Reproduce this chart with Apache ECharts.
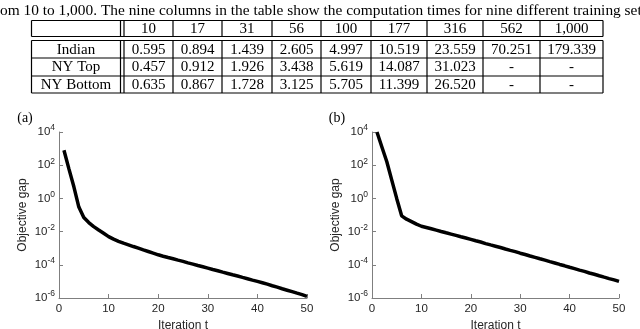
<!DOCTYPE html>
<html>
<head>
<meta charset="utf-8">
<script src="https://cdn.jsdelivr.net/npm/echarts@6/dist/echarts.min.js"></script>
<style>
  html, body { margin: 0; padding: 0; background: #fff; }
  #main { width: 640px; height: 329px; }
</style>
</head>
<body>
<div id="main"></div>
<script>
// caption line cut from the paper
var captionText = 'om 10 to 1,000. The nine columns in the table show the computation times for nine different training set';

// table data
var setSizes = ['10', '17', '31', '56', '100', '177', '316', '562', '1,000'];
var rowNames = ['Indian', 'NY Top', 'NY Bottom'];
var indianTimes = ['0.595', '0.894', '1.439', '2.605', '4.997', '10.519', '23.559', '70.251', '179.339'];
var nyTopTimes = ['0.457', '0.912', '1.926', '3.438', '5.619', '14.087', '31.023', '-', '-'];
var nyBottomTimes = ['0.635', '0.867', '1.728', '3.125', '5.705', '11.399', '26.520', '-', '-'];

// plot data (objective gap per iteration)
var iterations = [];
for (var i = 1; i <= 50; i++) iterations.push(i);

var gapA = [
  8e2, 6e1, 5e0, 3e-1, 7e-2, 3.5e-2, 2e-2, 1.25e-2, 8e-3, 5e-3,
  3.5e-3, 2.6e-3, 2e-3, 1.6e-3, 1.26e-3, 1e-3, 7.9e-4, 6.3e-4, 5e-4, 4e-4,
  3.3e-4, 2.75e-4, 2.3e-4, 1.9e-4, 1.6e-4, 1.3e-4, 1.1e-4, 9.1e-5, 7.6e-5, 6.3e-5,
  5.2e-5, 4.4e-5, 3.6e-5, 3e-5, 2.5e-5, 2.1e-5, 1.74e-5, 1.45e-5, 1.2e-5, 1e-5,
  8.3e-6, 6.8e-6, 5.5e-6, 4.5e-6, 3.6e-6, 2.95e-6, 2.4e-6, 1.95e-6, 1.6e-6, 1.26e-6
];
var gapB = [
  1e4, 1.26e3, 1.6e2, 1.26e1, 1.0, 8.9e-2, 5.6e-2, 4e-2, 2.8e-2, 2.1e-2,
  1.78e-2, 1.48e-2, 1.23e-2, 1.02e-2, 8.5e-3, 7.1e-3, 5.9e-3, 4.9e-3, 4.1e-3, 3.4e-3,
  2.8e-3, 2.35e-3, 1.9e-3, 1.58e-3, 1.32e-3, 1.1e-3, 8.9e-4, 7.4e-4, 6.2e-4, 5e-4,
  4.2e-4, 3.4e-4, 2.8e-4, 2.3e-4, 1.9e-4, 1.55e-4, 1.29e-4, 1.05e-4, 8.7e-5, 7.1e-5,
  5.9e-5, 4.8e-5, 4e-5, 3.2e-5, 2.7e-5, 2.2e-5, 1.8e-5, 1.48e-5, 1.23e-5, 1e-5
];

var serif = '"Liberation Serif", "DejaVu Serif", serif';
var sans = '"Liberation Sans", Arial, sans-serif';

// table layout
var colX = [31.5, 120.5, 124, 173, 222, 272, 321, 371, 427, 483, 540, 603];
var rowY = [20.5, 36.5, 40.5, 58, 76, 93];

function line(x1, y1, x2, y2) {
  return { type: 'line', shape: { x1: x1, y1: y1, x2: x2, y2: y2 }, style: { stroke: '#000', lineWidth: 1.2 }, silent: true };
}
function txt(s, x, y, size, align) {
  return {
    type: 'text', x: x, y: y, silent: true,
    style: { text: s, fontFamily: serif, fontSize: size, fill: '#000', align: align || 'center', verticalAlign: 'middle' }
  };
}

var graphics = [];
graphics.push(txt(captionText, 0, 10.5, 15.4, 'left'));

// horizontal rules
rowY.forEach(function (y) { graphics.push(line(colX[0], y, colX[colX.length - 1], y)); });
// vertical rules (the gap between header and body rows stays open)
colX.forEach(function (x) {
  graphics.push(line(x, rowY[0], x, rowY[1]));
  graphics.push(line(x, rowY[2], x, rowY[5]));
});

var dataCols = colX.slice(2);
var rowCenters = [(rowY[0] + rowY[1]) / 2, (rowY[2] + rowY[3]) / 2, (rowY[3] + rowY[4]) / 2, (rowY[4] + rowY[5]) / 2];
var rows = [indianTimes, nyTopTimes, nyBottomTimes];
setSizes.forEach(function (s, j) {
  var cx = (dataCols[j] + dataCols[j + 1]) / 2;
  graphics.push(txt(s, cx, rowCenters[0] + 0.5, 15));
  rows.forEach(function (r, k) { graphics.push(txt(r[j], cx, rowCenters[k + 1] + 0.5, 15)); });
});
rowNames.forEach(function (n, k) {
  graphics.push(txt(n, (colX[0] + colX[1]) / 2, rowCenters[k + 1] + 0.5, 15));
});

// panel tags
graphics.push(txt('(a)', 25, 118, 14));
graphics.push(txt('(b)', 337, 118, 14));

function supLabel(v) {
  var e = Math.round(Math.log(v) / Math.LN10);
  return '{b|10}{s|' + e + '}';
}

function xAxisFor(idx) {
  return {
    type: 'value', gridIndex: idx, min: 0, max: 50, interval: 10,
    name: 'Iteration t', nameLocation: 'middle', nameGap: 20,
    nameTextStyle: { fontFamily: sans, fontSize: 12, color: '#262626' },
    axisLine: { show: true, onZero: false, lineStyle: { color: '#7f7f7f', width: 1 } },
    axisTick: { show: true, inside: true, length: 4, lineStyle: { color: '#7f7f7f' } },
    axisLabel: { fontFamily: sans, fontSize: 11.5, color: '#262626', margin: 5 },
    splitLine: { show: false }
  };
}
function yAxisFor(idx) {
  return {
    type: 'log', logBase: 10, gridIndex: idx, min: 1e-6, max: 1e4, interval: 2, splitNumber: 5,
    name: 'Objective gap', nameLocation: 'middle', nameGap: 30, nameRotate: 90,
    nameTextStyle: { fontFamily: sans, fontSize: 12, color: '#262626' },
    axisLine: { show: true, lineStyle: { color: '#7f7f7f', width: 1 } },
    axisTick: { show: true, inside: true, length: 4, interval: 0, lineStyle: { color: '#7f7f7f' } },
    axisLabel: {
      formatter: supLabel, margin: 4, interval: 0, hideOverlap: false,
      rich: {
        b: { fontFamily: sans, fontSize: 11.5, color: '#262626' },
        s: { fontFamily: sans, fontSize: 8.5, color: '#262626', padding: [0, 0, 8, 0] }
      }
    },
    splitLine: { show: false }
  };
}

function pairs(ys) {
  return iterations.map(function (t, k) { return [t, ys[k]]; });
}

var chart = echarts.init(document.getElementById('main'), null, { renderer: 'canvas' });
chart.setOption({
  backgroundColor: '#ffffff',
  animation: false,
  grid: [
    { left: 59, top: 132, width: 248, height: 166, containLabel: false, outerBoundsMode: 'none' },
    { left: 372, top: 132, width: 247, height: 166, containLabel: false, outerBoundsMode: 'none' }
  ],
  xAxis: [xAxisFor(0), xAxisFor(1)],
  yAxis: [yAxisFor(0), yAxisFor(1)],
  series: [
    { type: 'line', xAxisIndex: 0, yAxisIndex: 0, data: pairs(gapA), showSymbol: false,
      lineStyle: { color: '#000', width: 3.5 } },
    { type: 'line', xAxisIndex: 1, yAxisIndex: 1, data: pairs(gapB), showSymbol: false,
      lineStyle: { color: '#000', width: 3.5 } }
  ],
  graphic: graphics
});
</script>
</body>
</html>
